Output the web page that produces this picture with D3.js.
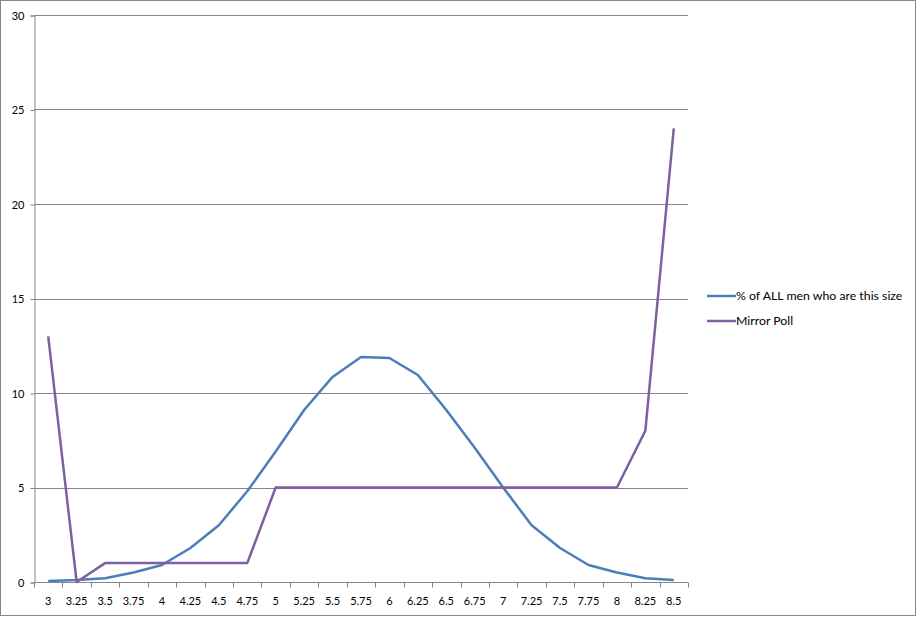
<!DOCTYPE html>
<html>
<head>
<meta charset="utf-8">
<script src="https://cdn.jsdelivr.net/npm/d3@7"></script>
<style>
  body { margin: 0; background: #fff; }
  text { font-family: Lato, "Open Sans", sans-serif; fill: #000; }
</style>
</head>
<body>
<div id="chart"></div>
<script>
const sizes = ["3","3.25","3.5","3.75","4","4.25","4.5","4.75","5","5.25","5.5","5.75",
               "6","6.25","6.5","6.75","7","7.25","7.5","7.75","8","8.25","8.5"];
const allMen = [0.05,0.1,0.2,0.5,0.9,1.8,3.0,4.8,6.9,9.1,10.85,11.9,
                11.85,10.95,9.1,7.1,5.0,3.0,1.8,0.9,0.5,0.2,0.1];
const mirrorPoll = [13,0,1,1,1,1,1,1,5,5,5,5,5,5,5,5,5,5,5,5,5,8,24];
const yTicks = [0,5,10,15,20,25,30];
const seriesNames = ["% of ALL men who are this size", "Mirror Poll"];
const seriesColors = ["#4a7ebb", "#7d60a0"];

const W = 917, H = 617;
const plot = { left: 34, top: 15, right: 688, bottom: 582 };

const svg = d3.select("#chart").append("svg")
  .attr("width", W).attr("height", H);

// outer border
svg.append("rect")
  .attr("x", 0.5).attr("y", 0.5)
  .attr("width", W - 2).attr("height", H - 2)
  .attr("fill", "none").attr("stroke", "#868686");

const x = d3.scaleBand()
  .domain(sizes)
  .range([plot.left, plot.right]);

const y = d3.scaleLinear()
  .domain([0, 30])
  .range([plot.bottom, plot.top]);

// gridlines
svg.append("g")
  .selectAll("line")
  .data(yTicks.filter(d => d > 0))
  .join("line")
  .attr("x1", plot.left).attr("x2", plot.right)
  .attr("y1", d => Math.round(y(d)) + 0.5).attr("y2", d => Math.round(y(d)) + 0.5)
  .attr("stroke", "#868686");

// y axis
const yAxis = svg.append("g")
  .attr("transform", `translate(${plot.left + 0.5},0.5)`)
  .call(d3.axisLeft(y).tickValues(yTicks).tickSize(4).tickPadding(6).tickFormat(d3.format("d")));
yAxis.select(".domain").attr("stroke", "#868686");
yAxis.selectAll(".tick line").attr("stroke", "#868686");
yAxis.selectAll("text").style("font-size", "11px").style("font-family", "Lato, sans-serif");

// x axis: ticks between categories
const xAxisG = svg.append("g").attr("transform", `translate(0,${plot.bottom + 0.5})`);
xAxisG.append("line")
  .attr("x1", plot.left).attr("x2", plot.right)
  .attr("stroke", "#868686");
xAxisG.selectAll(".tk")
  .data(d3.range(sizes.length + 1))
  .join("line")
  .attr("class", "tk")
  .attr("x1", i => Math.round(plot.left + i * x.step()) + 0.5)
  .attr("x2", i => Math.round(plot.left + i * x.step()) + 0.5)
  .attr("y1", 0).attr("y2", 5)
  .attr("stroke", "#868686");
xAxisG.selectAll("text")
  .data(sizes)
  .join("text")
  .attr("x", d => x(d) + x.bandwidth() / 2)
  .attr("y", 22)
  .attr("text-anchor", "middle")
  .style("font-size", "11px")
  .text(d => d);

// lines
const line = d3.line()
  .x((d, i) => x(sizes[i]) + x.bandwidth() / 2)
  .y(d => y(d));

[allMen, mirrorPoll].forEach((vals, k) => {
  svg.append("path")
    .datum(vals)
    .attr("d", line)
    .attr("fill", "none")
    .attr("stroke", seriesColors[k])
    .attr("stroke-width", 2.5)
    .attr("stroke-linejoin", "round");
});

// legend
const legend = svg.append("g").attr("transform", "translate(707,296)");
seriesNames.forEach((name, k) => {
  const g = legend.append("g").attr("transform", `translate(0,${k * 25})`);
  g.append("line")
    .attr("x1", 0).attr("x2", 29)
    .attr("stroke", seriesColors[k])
    .attr("stroke-width", 2.5);
  g.append("text")
    .attr("x", 29).attr("y", 4)
    .style("font-size", "12.3px")
    .text(name);
});
</script>
</body>
</html>
